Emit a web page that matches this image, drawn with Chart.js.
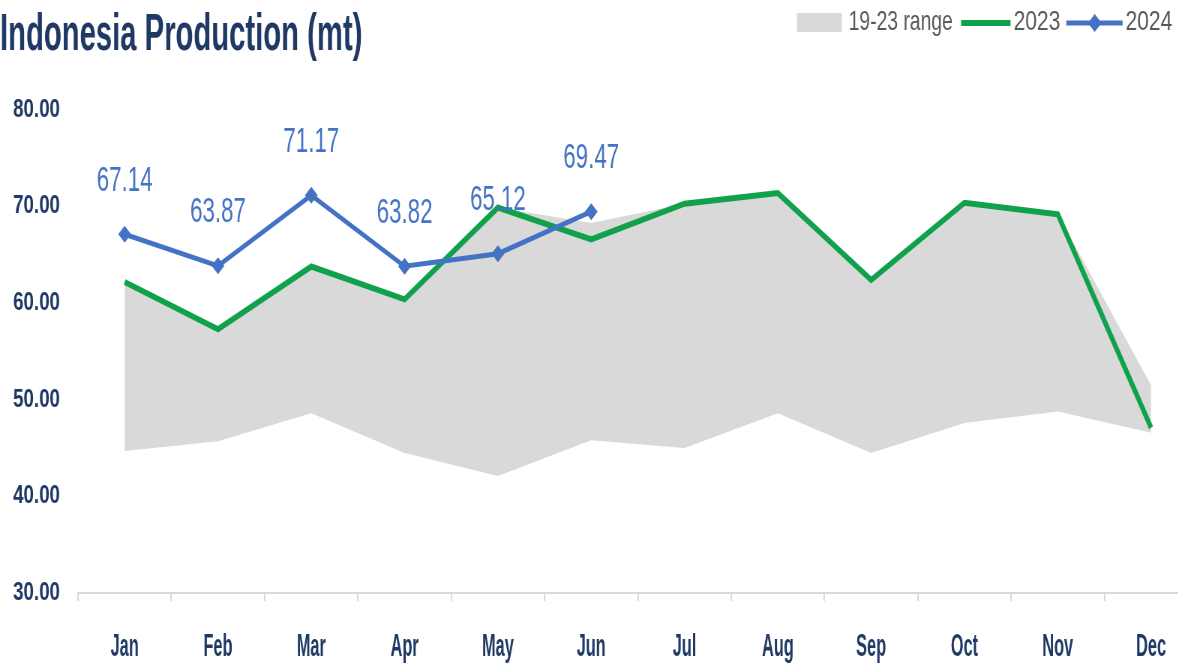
<!DOCTYPE html>
<html><head><meta charset="utf-8">
<script src="https://cdn.jsdelivr.net/npm/chart.js@4/dist/chart.umd.min.js"></script>
<style>
html,body{margin:0;padding:0;background:#fff;overflow:hidden;width:1178px;height:667px;}
#wrap{position:absolute;left:0;top:0;width:1606px;height:667px;transform:scaleX(0.75);transform-origin:0 0;}
</style></head><body>
<div id="wrap"><canvas id="c"></canvas></div>
<script>
const months = ['Jan','Feb','Mar','Apr','May','Jun','Jul','Aug','Sep','Oct','Nov','Dec'];
const rangeMax = [62.2, 57.3, 63.8, 60.4, 69.9, 68.3, 70.3, 71.4, 62.4, 70.4, 69.2, 51.5];
const rangeMin = [44.7, 45.7, 48.6, 44.5, 42.1, 45.8, 45.0, 48.6, 44.5, 47.6, 48.8, 46.6];
const y2023 = [62.2, 57.3, 63.8, 60.4, 69.9, 66.6, 70.3, 71.4, 62.4, 70.4, 69.2, 47.1];
const y2024 = [67.14, 63.87, 71.17, 63.82, 65.12, 69.47, null, null, null, null, null, null];
const yTicks = [30, 40, 50, 60, 70, 80];
const titleText = 'Indonesia Production (mt)';
const legendLabels = ['19-23 range', '2023', '2024'];

const FONT = "'Liberation Sans', Arial, sans-serif";
const NAVY = '#1F3864';
const GRAY = '#D9D9D9';
const GREEN = '#10A14B';
const BLUE = '#4472C4';
const LEGEND_TEXT = '#595959';

function drawText(ctx, text, x, y, font, color, align, baseline, sx) {
  ctx.save();
  ctx.font = font;
  ctx.fillStyle = color;
  ctx.textAlign = align;
  ctx.textBaseline = baseline;
  ctx.translate(x, y);
  ctx.scale(sx, 1);
  ctx.fillText(text, 0, 0);
  ctx.restore();
}
function textW(ctx, text, font, sx) {
  ctx.save(); ctx.font = font; const w = ctx.measureText(text).width * sx; ctx.restore(); return w;
}

const decor = {
  id: 'decor',
  afterDatasetsDraw(chart) {
    const ctx = chart.ctx;
    const meta = chart.getDatasetMeta(3);
    meta.data.forEach((pt, i) => {
      const v = y2024[i];
      if (v == null) return;
      drawText(ctx, v.toFixed(2), pt.x, pt.y - 53, '35px ' + FONT, BLUE, 'center', 'middle', 0.85);
    });
  },
  afterDraw(chart) {
    const ctx = chart.ctx;
    // x category labels from the scale
    const xs = chart.scales.x;
    chart.data.labels.forEach((lab, i) => {
      drawText(ctx, lab, xs.getPixelForTick(i), 647, 'bold 32px ' + FONT, NAVY, 'center', 'middle', 0.68);
    });
    // title
    drawText(ctx, titleText, 0, 50, 'bold 52px ' + FONT, NAVY, 'left', 'alphabetic', 0.75);
    // legend, right aligned
    const lf = '28px ' + FONT;
    const cy = 22;
    let x = 1563;
    let w = textW(ctx, legendLabels[2], lf, 1.0);
    x -= w; drawText(ctx, legendLabels[2], x, cy, lf, LEGEND_TEXT, 'left', 'middle', 1.0);
    x -= 4;
    ctx.save();
    ctx.strokeStyle = BLUE; ctx.lineWidth = 5;
    ctx.beginPath(); ctx.moveTo(x - 75, cy + 1); ctx.lineTo(x, cy + 1); ctx.stroke();
    const dx = x - 37;
    ctx.fillStyle = BLUE;
    ctx.beginPath(); ctx.moveTo(dx, cy - 8); ctx.lineTo(dx + 9, cy + 1); ctx.lineTo(dx, cy + 10); ctx.lineTo(dx - 9, cy + 1); ctx.closePath(); ctx.fill();
    ctx.restore();
    x -= 75 + 8;
    w = textW(ctx, legendLabels[1], lf, 1.0);
    x -= w; drawText(ctx, legendLabels[1], x, cy, lf, LEGEND_TEXT, 'left', 'middle', 1.0);
    x -= 4;
    ctx.save();
    ctx.strokeStyle = GREEN; ctx.lineWidth = 6;
    ctx.beginPath(); ctx.moveTo(x - 66, cy + 1); ctx.lineTo(x, cy + 1); ctx.stroke();
    ctx.restore();
    x -= 66 + 11;
    w = textW(ctx, legendLabels[0], lf, 0.92);
    x -= w; drawText(ctx, legendLabels[0], x, cy, lf, LEGEND_TEXT, 'left', 'middle', 0.92);
    x -= 9;
    ctx.save();
    ctx.fillStyle = GRAY;
    ctx.fillRect(x - 60, cy - 9, 60, 19);
    ctx.restore();
  }
};

new Chart(document.getElementById('c'), {
  type: 'line',
  data: {
    labels: months,
    datasets: [
      {label: legendLabels[0], data: rangeMax, fill: 1, backgroundColor: GRAY, borderColor: GRAY, borderWidth: 0, pointRadius: 0, order: 3, tension: 0},
      {label: 'min', data: rangeMin, fill: false, borderWidth: 0, borderColor: 'rgba(0,0,0,0)', pointRadius: 0, order: 4, tension: 0},
      {label: legendLabels[1], data: y2023, fill: false, borderColor: GREEN, borderWidth: 6, pointRadius: 0, order: 2, tension: 0, borderJoinStyle: 'miter'},
      {label: legendLabels[2], data: y2024, fill: false, borderColor: BLUE, backgroundColor: BLUE, borderWidth: 5, pointStyle: 'rectRot', pointRadius: 8, pointBorderWidth: 1, order: 1, tension: 0, spanGaps: false}
    ]
  },
  options: {
    responsive: true,
    maintainAspectRatio: false,
    animation: false,
    layout: {padding: {top: 110, left: 0, right: 3, bottom: 0}},
    plugins: {legend: {display: false}, tooltip: {enabled: false}, title: {display: false}},
    scales: {
      x: {
        offset: true,
        grid: {offset: true, drawOnChartArea: false, drawTicks: true, tickLength: 8, color: GRAY, lineWidth: 2},
        border: {display: true, color: GRAY, width: 2},
        ticks: {display: false, autoSkip: false},
        afterFit(s) { s.height = 74; }
      },
      y: {
        min: yTicks[0], max: yTicks[yTicks.length - 1],
        afterBuildTicks(s) { s.ticks = yTicks.map(v => ({value: v})); },
        ticks: {font: {family: FONT, size: 25, weight: 'bold'}, color: NAVY, padding: 24, callback: v => Number(v).toFixed(2)},
        grid: {display: false, drawTicks: false},
        border: {display: false},
        afterFit(s) { s.width = 104; }
      }
    }
  },
  plugins: [decor]
});
</script>
</body></html>
